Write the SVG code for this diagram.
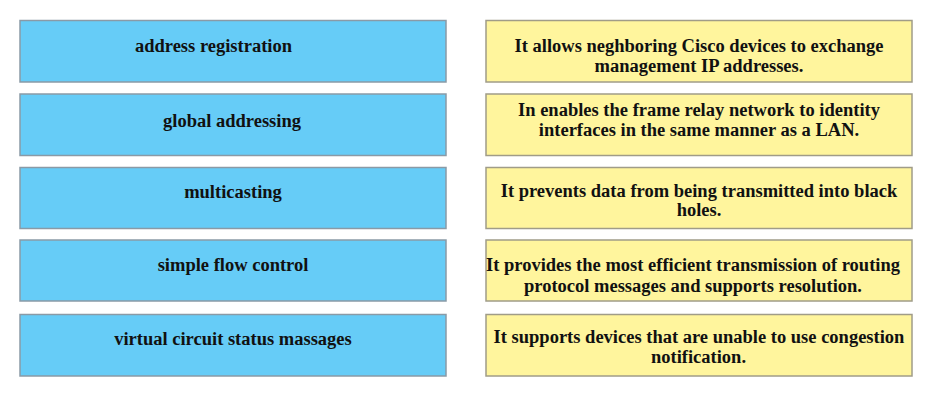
<svg xmlns="http://www.w3.org/2000/svg" width="948" height="403" viewBox="0 0 948 403">
<style>
.l{fill:#66ccf7;stroke:#8a9aa6;stroke-width:1.5}
.r{fill:#fff59d;stroke:#a09c88;stroke-width:1.5}
text{font-family:"Liberation Serif","Times New Roman",serif;font-weight:bold;font-size:18.5px;fill:#111;text-anchor:middle}
</style>
<rect width="948" height="403" fill="#fff"/>
<g id="l1"><rect class="l" x="20" y="20.5" width="426" height="61.5"/><text x="213.5" y="52">address registration</text></g>
<g id="l2"><rect class="l" x="20" y="94" width="426" height="61.5"/><text x="232" y="126.5">global addressing</text></g>
<g id="l3"><rect class="l" x="20" y="167.5" width="426" height="61"/><text x="233" y="198.3">multicasting</text></g>
<g id="l4"><rect class="l" x="20" y="240" width="426" height="61"/><text x="233" y="270.7">simple flow control</text></g>
<g id="l5"><rect class="l" x="20" y="314.5" width="426" height="61.5"/><text x="233" y="345">virtual circuit status massages</text></g>
<g id="r1"><rect class="r" x="486" y="20.5" width="426" height="61.5"/><text x="699" y="51.7">It allows neghboring Cisco devices to exchange</text><text x="699" y="71.7">management IP addresses.</text></g>
<g id="r2"><rect class="r" x="486" y="94" width="426" height="61.5"/><text x="699" y="116">In enables the frame relay network to identity</text><text x="699" y="136">interfaces in the same manner as a LAN.</text></g>
<g id="r3"><rect class="r" x="486" y="167.5" width="426" height="61"/><text x="699" y="197">It prevents data from being transmitted into black</text><text x="699" y="216">holes.</text></g>
<g id="r4"><rect class="r" x="486" y="240" width="426" height="61"/><text x="693" y="270.7">It provides the most efficient transmission of routing</text><text x="693" y="291.5">protocol messages and supports resolution.</text></g>
<g id="r5"><rect class="r" x="486" y="314.5" width="426" height="61.5"/><text x="699" y="343.3">It supports devices that are unable to use congestion</text><text x="698.5" y="363.3">notification.</text></g>
<g id="connectors"/>
</svg>
